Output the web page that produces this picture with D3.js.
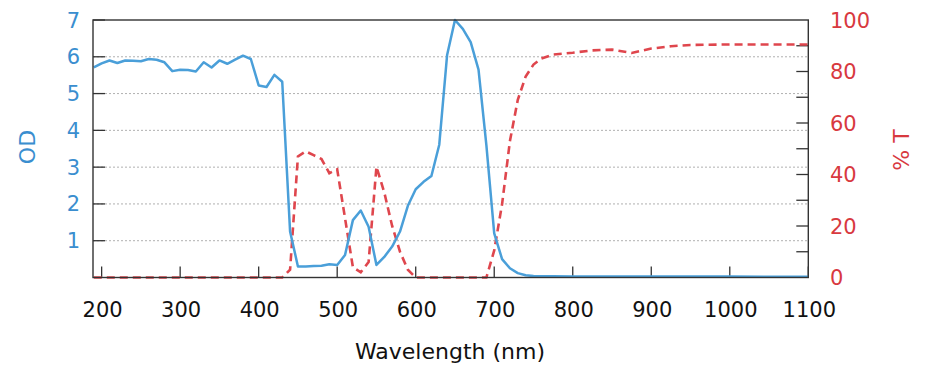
<!DOCTYPE html>
<html><head><meta charset="utf-8">
<script src="https://cdn.jsdelivr.net/npm/d3@7"></script>
<style>body{margin:0;background:#fff;}svg{display:block;}</style>
</head><body>
<svg id="c" width="926" height="376"></svg>
<script>
// Optical density (left axis)
const odWavelength = [190,200,210,220,230,240,250,260,270,280,290,300,310,320,330,340,350,360,370,380,390,400,410,420,430,440,450,460,470,480,490,500,510,520,530,540,550,560,570,580,590,600,610,620,630,640,650,660,670,680,690,700,710,720,730,740,750,800,850,900,950,1000,1050,1100];
const odValues = [5.71,5.82,5.90,5.83,5.90,5.89,5.88,5.94,5.92,5.85,5.61,5.65,5.64,5.60,5.85,5.71,5.90,5.81,5.92,6.03,5.94,5.22,5.18,5.51,5.32,1.25,0.30,0.30,0.31,0.32,0.36,0.34,0.61,1.56,1.82,1.38,0.34,0.56,0.84,1.25,1.95,2.40,2.60,2.76,3.61,6.05,7.00,6.76,6.40,5.65,3.60,1.20,0.50,0.25,0.12,0.06,0.04,0.03,0.03,0.03,0.03,0.03,0.02,0.02];
// Transmission % (right axis)
const tWavelength = [190,430,440,450,460,470,480,490,500,510,520,530,540,550,560,570,580,590,600,690,700,710,720,730,740,750,760,775,800,825,850,875,900,925,950,1000,1050,1100];
const tValues = [0,0,3,47,49,47.5,46,40.5,42,23,4,2,6,43,33,20,10,3,0,0,10.5,28.5,53,69,78,82.7,85,86.6,87.3,88.2,88.5,87.2,88.9,89.8,90.3,90.5,90.5,90.5];
const xTicks = [200,300,400,500,600,700,800,900,1000,1100];
const odTicks = [1,2,3,4,5,6,7];
const tTicks = [0,20,40,60,80,100];
const tMinorTicks = [10,20,30,40,50,60,70,80,90];

const svg = d3.select('#c');
const L = 93, R = 808.3, T = 20, B = 277.5;
const x = d3.scaleLinear().domain([189,1100]).range([L,R]);
const y = d3.scaleLinear().domain([0,7]).range([B,T]);
const y2 = d3.scaleLinear().domain([0,100]).range([B,T]);
const font = "'DejaVu Sans', Verdana, sans-serif";
const blueText = '#3a8ecf', redText = '#d8393f';

// grid
svg.append('g').selectAll('line').data(odTicks.filter(d=>d<7)).join('line')
  .attr('x1',L).attr('x2',R).attr('y1',d=>y(d)).attr('y2',d=>y(d))
  .attr('stroke','#b0b0b0').attr('stroke-width',1).attr('stroke-dasharray','2,2');

// ticks
const tk = svg.append('g').attr('stroke','#333').attr('stroke-width',1.3);
tk.selectAll('.lt').data(odTicks).join('line')
  .attr('x1',L).attr('x2',L+12).attr('y1',d=>y(d)).attr('y2',d=>y(d));
tk.selectAll('.rt').data(tMinorTicks).join('line')
  .attr('x1',R-12).attr('x2',R).attr('y1',d=>y2(d)).attr('y2',d=>y2(d));
tk.selectAll('.bt').data(xTicks).join('line')
  .attr('x1',d=>x(d)).attr('x2',d=>x(d)).attr('y1',B).attr('y2',B-11);

// curves
const lineOD = d3.line().x((d,i)=>x(odWavelength[i])).y(d=>y(d));
const lineT = d3.line().x((d,i)=>x(tWavelength[i])).y(d=>y2(d));
svg.append('path').attr('d',lineT(tValues)).attr('fill','none')
  .attr('stroke','#df464d').attr('stroke-width',2.6).attr('stroke-dasharray','8,5');
svg.append('path').attr('d',lineOD(odValues)).attr('fill','none')
  .attr('stroke','#4a9fd9').attr('stroke-width',2.5).attr('stroke-linejoin','round');

// frame
svg.append('rect').attr('x',L).attr('y',T).attr('width',R-L).attr('height',B-T)
  .attr('fill','none').attr('stroke','#333').attr('stroke-width',1.4);

// tick labels
svg.append('g').selectAll('text').data(xTicks).join('text')
  .attr('x',d=>x(d)+1).attr('y',317).attr('text-anchor','middle')
  .attr('font-family',font).attr('font-size',21).attr('fill','#111').text(d=>d);
svg.append('g').selectAll('text').data(odTicks).join('text')
  .attr('x',80).attr('y',d=>y(d)+7.5).attr('text-anchor','end')
  .attr('font-family',font).attr('font-size',21).attr('fill',blueText).text(d=>d);
svg.append('g').selectAll('text').data(tTicks).join('text')
  .attr('x',830).attr('y',d=>y2(d)+7.5).attr('text-anchor','start')
  .attr('font-family',font).attr('font-size',21).attr('fill',redText).text(d=>d);

// axis titles
svg.append('text').attr('x',450).attr('y',358.5).attr('text-anchor','middle')
  .attr('font-family',font).attr('font-size',22).attr('fill','#111').text('Wavelength (nm)');
svg.append('text').attr('transform','translate(35,147) rotate(-90)').attr('text-anchor','middle')
  .attr('font-family',font).attr('font-size',22).attr('fill',blueText).text('OD');
svg.append('text').attr('transform','translate(909,150) rotate(-90)').attr('text-anchor','middle')
  .attr('font-family',font).attr('font-size',22).attr('fill',redText).text('% T');
</script>
</body></html>
